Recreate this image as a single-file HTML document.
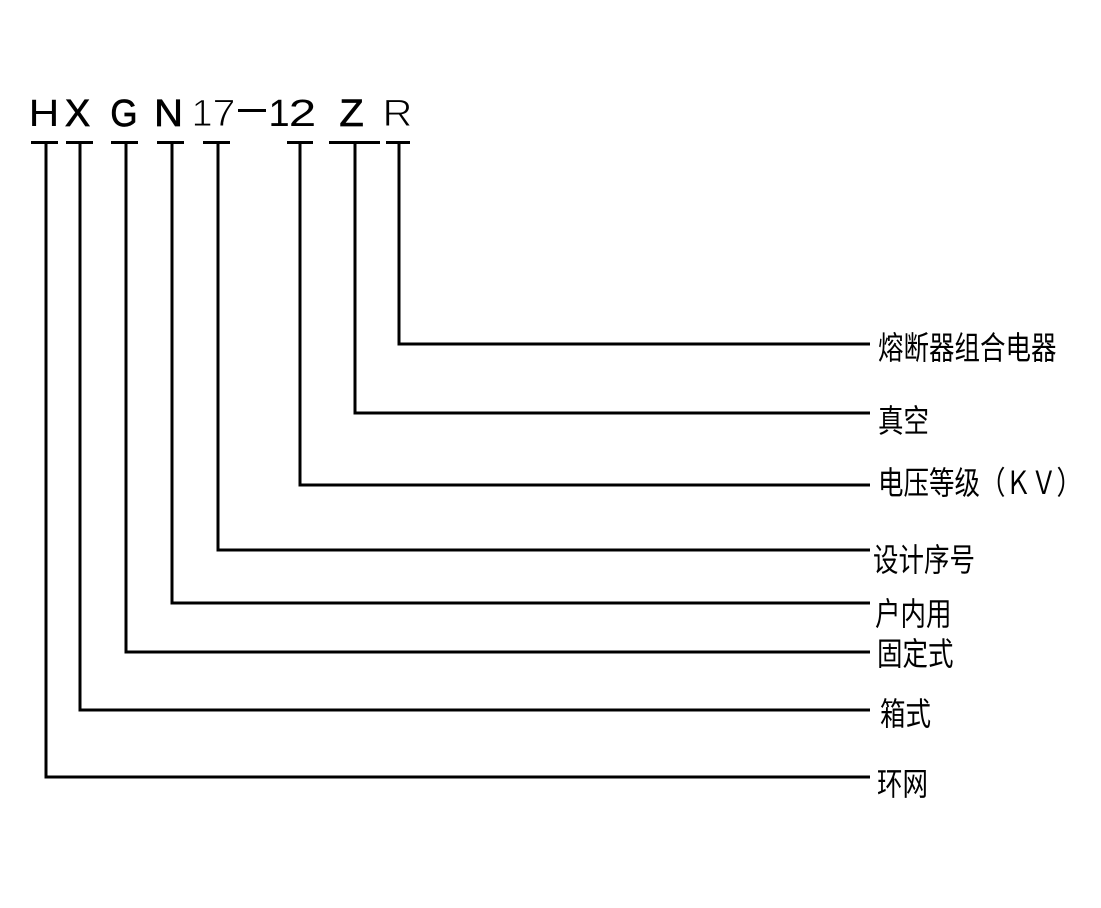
<!DOCTYPE html>
<html>
<head>
<meta charset="utf-8">
<style>
  html,body{margin:0;padding:0;background:#fff;}
  svg{display:block;}
  .lat{font-family:"Liberation Sans",sans-serif;font-size:38px;fill:#000;}
  .med{stroke:#000;stroke-width:0.7px;}
  .thin{stroke:#fff;stroke-width:1.0px;}
  .cjk{font-family:"Liberation Sans","Noto Sans CJK SC",sans-serif;font-size:25.5px;fill:#000;}
</style>
</head>
<body>
<svg width="1101" height="908" viewBox="0 0 1101 908" xmlns="http://www.w3.org/2000/svg">
  <rect x="0" y="0" width="1101" height="908" fill="#fff"/>

  <!-- Top model code letters -->
  <text class="lat" text-anchor="middle" transform="translate(44,126) scale(1.12,1)">H</text>
  <text class="lat med" text-anchor="middle" transform="translate(77.5,126) scale(1.0,1)">X</text>
  <text class="lat med" text-anchor="middle" transform="translate(124,126) scale(0.92,1)">G</text>
  <text class="lat med" text-anchor="middle" transform="translate(168.5,126) scale(1.05,1)">N</text>
  <text class="lat thin" text-anchor="middle" transform="translate(202,126) scale(1,1)">1</text>
  <text class="lat thin" text-anchor="middle" transform="translate(224,126) scale(1.1,1)">7</text>
  <line x1="238" y1="110.5" x2="266" y2="110.5" stroke="#000" stroke-width="3"/>
  <text class="lat" text-anchor="middle" transform="translate(279,126) scale(1,1)">1</text>
  <text class="lat" text-anchor="middle" transform="translate(302.5,126) scale(1.3,1)">2</text>
  <text class="lat med" text-anchor="middle" transform="translate(351.5,126) scale(1.05,1)">Z</text>
  <text class="lat thin" text-anchor="middle" transform="translate(397.5,126) scale(1.1,1)">R</text>

  <!-- T bars -->
  <g stroke="#000" stroke-width="3" fill="none">
    <line x1="31" y1="142.5" x2="58" y2="142.5"/>
    <line x1="66" y1="142.5" x2="93" y2="142.5"/>
    <line x1="111" y1="142.5" x2="138" y2="142.5"/>
    <line x1="157" y1="142.5" x2="184" y2="142.5"/>
    <line x1="203" y1="142.5" x2="230" y2="142.5"/>
    <line x1="287" y1="142.5" x2="313" y2="142.5"/>
    <line x1="329" y1="142.5" x2="380" y2="142.5"/>
    <line x1="386" y1="142.5" x2="410" y2="142.5"/>

    <!-- Leader lines -->
    <polyline points="46,142 46,777 870,777"/>
    <polyline points="80,142 80,710 870,710"/>
    <polyline points="126,142 126,652 870,652"/>
    <polyline points="172,142 172,603 870,603"/>
    <polyline points="218,142 218,550 870,550"/>
    <polyline points="300,142 300,485 870,485"/>
    <polyline points="355,142 355,413 870,413"/>
    <polyline points="399,142 399,344 870,344"/>
  </g>

  <!-- Labels -->
  <text class="cjk" transform="translate(878,347) scale(1,1.25)" y="9.7">熔断器组合电器</text>
  <text class="cjk" transform="translate(878,420) scale(1,1.25)" y="9.7">真空</text>
  <text class="cjk" transform="translate(878,482) scale(1,1.25)" y="9.7">电压等级（ＫＶ）</text>
  <text class="cjk" transform="translate(873,559) scale(1,1.25)" y="9.7">设计序号</text>
  <text class="cjk" transform="translate(875,613) scale(1,1.25)" y="9.7">户内用</text>
  <text class="cjk" transform="translate(877,653) scale(1,1.25)" y="9.7">固定式</text>
  <text class="cjk" transform="translate(880,713) scale(1,1.25)" y="9.7">箱式</text>
  <text class="cjk" transform="translate(877,783) scale(1,1.25)" y="9.7">环网</text>
</svg>
</body>
</html>
